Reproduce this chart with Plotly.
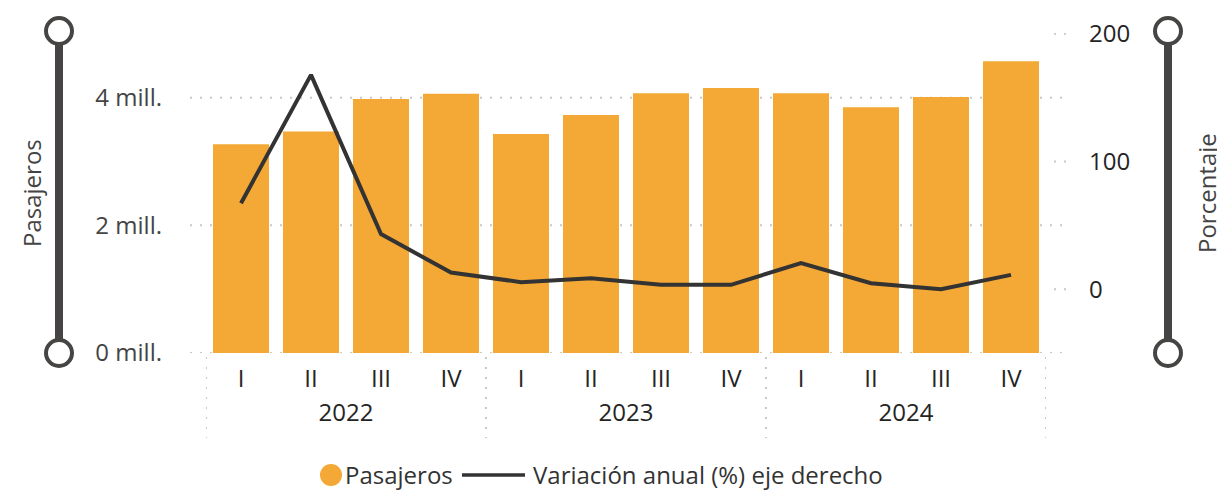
import plotly.graph_objects as go

# datos
anios = ["2022", "2022", "2022", "2022", "2023", "2023", "2023", "2023", "2024", "2024", "2024", "2024"]
trimestres = ["I", "II", "III", "IV", "I", "II", "III", "IV", "I", "II", "III", "IV"]
pasajeros = [3.27, 3.47, 3.98, 4.06, 3.43, 3.73, 4.07, 4.15, 4.07, 3.85, 4.01, 4.57]  # millones
variacion = [67.3, 167.8, 43.1, 13.0, 5.5, 8.6, 3.4, 3.4, 20.4, 4.7, 0.0, 11.2]  # %

ticks_izq = [0, 2, 4]
ticks_izq_txt = ["0 mill.", "2 mill.", "4 mill."]
ticks_der = [0, 100, 200]

NARANJA = "#F4A836"
LINEA = "#333333"
DECO = "#474543"
GRID = "#C8C8C8"
FUENTE = "Open Sans"

# categoria unica por trimestre; los años van en un eje aparte
etiquetas = [f"{a}-{t}" for a, t in zip(anios, trimestres)]
anios_unicos = list(dict.fromkeys(anios))

# el body de la pagina tiene 8px de margen; area del grafico en pantalla: x 206-1046, y 33-353
def px(sx):
    return (sx - 206) / 840

def py(sy):
    return (353 - sy) / 320

fig = go.Figure()

fig.add_trace(go.Bar(
    x=etiquetas, y=pasajeros, name="Pasajeros",
    marker=dict(color=NARANJA, line=dict(width=0)),
    showlegend=False,
))
fig.add_trace(go.Scatter(
    x=etiquetas, y=variacion, yaxis="y2", mode="lines",
    name="Variación anual (%) eje derecho",
    line=dict(color=LINEA, width=4), showlegend=False,
))
# traza invisible para que se dibuje el eje de años
fig.add_trace(go.Scatter(
    x=anios_unicos, y=[0] * len(anios_unicos), xaxis="x2", mode="markers",
    marker=dict(opacity=0), hoverinfo="skip", showlegend=False,
))

punteado = dict(color=GRID, width=2, dash="2px,8px")
shapes = []
# lineas de cuadricula punteadas (se salen del area del grafico, como en el original)
for v in ticks_izq:
    shapes.append(dict(type="line", xref="paper", yref="y", x0=px(190), x1=px(1068), y0=v, y1=v,
                       line=punteado, layer="below"))
for v in ticks_der:
    shapes.append(dict(type="line", xref="paper", yref="y2", x0=px(1054), x1=px(1068), y0=v, y1=v,
                       line=punteado, layer="below"))
# separadores de años
for i in range(len(anios_unicos) + 1):
    xv = i - 0.5
    shapes.append(dict(type="line", xref="x2", yref="paper", x0=xv, x1=xv, y0=py(357), y1=py(438),
                       line=punteado))

# decoracion: barras verticales con circulos en los extremos
def deco(sx):
    out = [dict(type="line", xref="paper", yref="paper", x0=px(sx), x1=px(sx), y0=py(340), y1=py(44),
                line=dict(color=DECO, width=8))]
    for sy in [31, 353]:
        out.append(dict(type="circle", xref="paper", yref="paper", xsizemode="pixel", ysizemode="pixel",
                        xanchor=px(sx), yanchor=py(sy), x0=-13, x1=13, y0=-13, y1=13,
                        line=dict(color=DECO, width=4), fillcolor="white"))
    return out

shapes += deco(59)
shapes += deco(1168)

# leyenda (hecha a mano para imitar el simbolo circular y la linea larga)
y_ley = 474
shapes.append(dict(type="circle", xref="paper", yref="paper", xsizemode="pixel", ysizemode="pixel",
                   xanchor=px(331), yanchor=py(y_ley + 1), x0=-11, x1=11, y0=-11, y1=11,
                   line=dict(width=0), fillcolor=NARANJA))
shapes.append(dict(type="line", xref="paper", yref="paper", x0=px(462), x1=px(525),
                   y0=py(y_ley + 1), y1=py(y_ley + 1), line=dict(color=LINEA, width=3.5)))

annotations = [
    dict(text="Pasajeros", xref="paper", yref="paper", x=px(31), y=0.5, textangle=-90,
         xanchor="center", yanchor="middle", showarrow=False,
         font=dict(family=FUENTE, size=24, color="#444444")),
    dict(text="Porcentaje", xref="paper", yref="paper", x=px(1206), y=0.5, textangle=-90,
         xanchor="center", yanchor="middle", showarrow=False,
         font=dict(family=FUENTE, size=24, color="#444444")),
    dict(text="Pasajeros", xref="paper", yref="paper", x=px(343), y=py(y_ley),
         xanchor="left", yanchor="middle", showarrow=False,
         font=dict(family=FUENTE, size=24, color="#333333")),
    dict(text="Variación anual (%) eje derecho", xref="paper", yref="paper", x=px(531), y=py(y_ley),
         xanchor="left", yanchor="middle", showarrow=False,
         font=dict(family=FUENTE, size=24, color="#333333")),
]

fig.update_layout(
    width=1217, height=483,
    margin=dict(l=198, r=179, t=25, b=138, autoexpand=False),
    paper_bgcolor="white", plot_bgcolor="white",
    font=dict(family=FUENTE, size=24, color="#252423"),
    bargap=0.2, showlegend=False,
    xaxis=dict(type="category", tickvals=etiquetas, ticktext=trimestres, showgrid=False,
               zeroline=False, showline=False, ticks="", ticklabelstandoff=9,
               tickfont=dict(size=24, color="#252423"), range=[-0.5, len(etiquetas) - 0.5]),
    xaxis2=dict(overlaying="x", anchor="y", side="bottom", type="category",
                range=[-0.5, len(anios_unicos) - 0.5],
                showgrid=False, zeroline=False, showline=False, ticks="",
                ticklabelstandoff=43, tickfont=dict(size=24, color="#252423")),
    yaxis=dict(range=[0, 5.013], tickvals=ticks_izq, ticktext=ticks_izq_txt, showgrid=False,
               zeroline=False, showline=False, ticklabelstandoff=43,
               tickfont=dict(size=24, color="#444444")),
    yaxis2=dict(range=[-50, 200.6], tickvals=ticks_der, overlaying="y", side="right",
                showgrid=False, zeroline=False, showline=False, ticklabelstandoff=42,
                tickfont=dict(size=24, color="#252423")),
    shapes=shapes, annotations=annotations,
)

fig.write_html("out.html")
